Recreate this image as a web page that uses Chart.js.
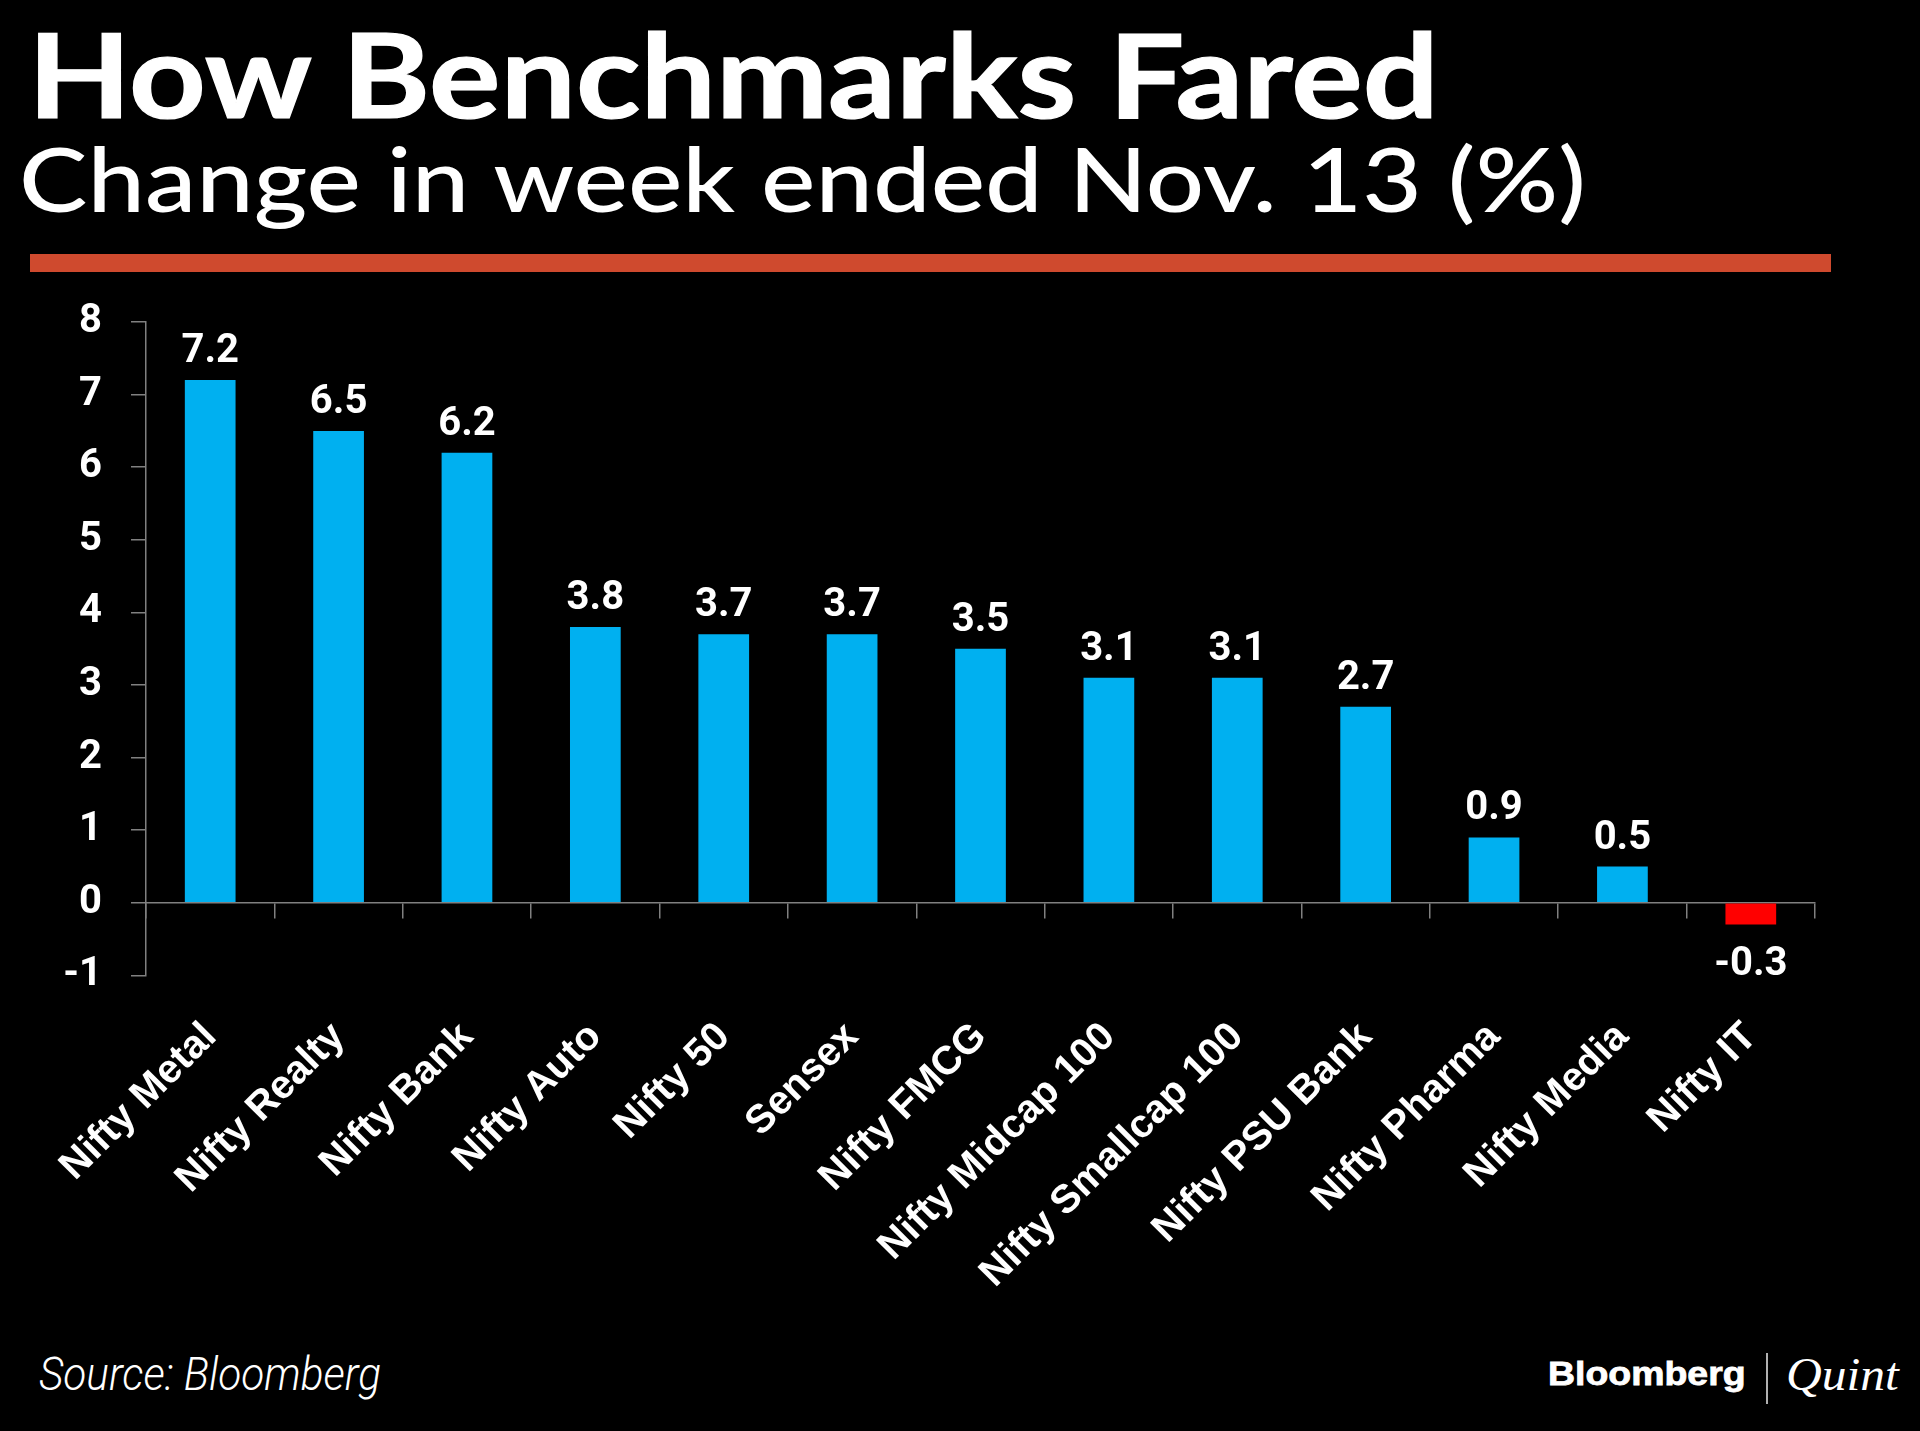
<!DOCTYPE html>
<html>
<head>
<meta charset="utf-8">
<script src="https://cdn.jsdelivr.net/npm/chart.js@4"></script>
<style>
  html, body { margin: 0; padding: 0; background: #000; }
  body { width: 1920px; height: 1431px; position: relative; overflow: hidden; }
  .txt { position: absolute; white-space: nowrap; color: #fff; transform-origin: 0 0; margin: 0; padding: 0; }
  #title { -webkit-text-stroke: 1.2px #fff; }
  #brand1 { -webkit-text-stroke: 0.8px #fff; }
  #rule { position: absolute; left: 30px; top: 254px; width: 1801px; height: 18px; background: #CF4A2E; }
  #divider { position: absolute; left: 1766px; top: 1353px; width: 1.5px; height: 51px; background: #b0b0b0; }
  #chartBox { position: absolute; left: 0; top: 280px; width: 1920px; height: 1040px; }
</style>
</head>
<body>
<div id="title" class="txt"></div>
<div id="subtitle" class="txt"></div>
<div id="rule"></div>
<div id="chartBox"><canvas id="chart" width="1920" height="1040"></canvas></div>
<div id="source" class="txt"></div>
<div id="brand1" class="txt"></div>
<div id="divider"></div>
<div id="brand2" class="txt"></div>
<script>
// ---- data ----
const titleText = 'How Benchmarks Fared';
const subtitleText = 'Change in week ended Nov. 13 (%)';
const sourceText = 'Source: Bloomberg';
const brandText1 = 'Bloomberg';
const brandText2 = 'Quint';
const categories = ['Nifty Metal', 'Nifty Realty', 'Nifty Bank', 'Nifty Auto', 'Nifty 50', 'Sensex', 'Nifty FMCG',
  'Nifty Midcap 100', 'Nifty Smallcap 100', 'Nifty PSU Bank', 'Nifty Pharma', 'Nifty Media', 'Nifty IT'];
const changes = [7.2, 6.5, 6.2, 3.8, 3.7, 3.7, 3.5, 3.1, 3.1, 2.7, 0.9, 0.5, -0.3];
const yMin = -1;
const yMax = 8;
const yStep = 1;

// ---- text placement helper ----
const mctx = document.createElement('canvas').getContext('2d');
function placeText(id, text, font, family, inkLeft, inkRight, baseline, capHeight) {
  const el = document.getElementById(id);
  mctx.font = font + ' 100px ' + family;
  const capRatio = mctx.measureText('H').actualBoundingBoxAscent / 100;
  const fs = capHeight / capRatio;
  mctx.font = font + ' ' + fs + 'px ' + family;
  const m = mctx.measureText(text);
  const ink = m.actualBoundingBoxLeft + m.actualBoundingBoxRight;
  const s = (inkRight - inkLeft) / ink;
  const asc = m.fontBoundingBoxAscent, desc = m.fontBoundingBoxDescent;
  el.textContent = text;
  el.style.font = font + ' ' + fs + 'px ' + family;
  el.style.lineHeight = (asc + desc) + 'px';
  el.style.height = (asc + desc) + 'px';
  el.style.top = (baseline - asc) + 'px';
  el.style.left = (inkLeft + m.actualBoundingBoxLeft * s) + 'px';
  el.style.transform = 'scaleX(' + s + ')';
}
placeText('title', titleText, '700', 'Lato', 38, 1433, 118, 85);
placeText('subtitle', subtitleText, '500', 'Lato', 24, 1585, 212, 65);
placeText('source', sourceText, 'italic 300', 'Roboto', 39, 380, 1390, 33);
placeText('brand1', brandText1, '700', '"Liberation Sans Narrow", "Liberation Sans"', 1550, 1743, 1385, 23);
placeText('brand2', brandText2, 'italic 400', '"Liberation Serif"', 1788, 1900, 1390, 30);

// ---- chart ----
const AXIS = '#808080';
const POS = '#00B0F0';
const NEG = '#FF0000';
const TARGET_TOP = 321.6;   // page y of the top of the value axis
const TARGET_BOTTOM = 975;  // page y of the bottom of the value axis
let labelAxisHeight = 345;

const valueLabels = {
  id: 'valueLabels',
  afterDatasetsDraw(chart) {
    const ctx = chart.ctx;
    const meta = chart.getDatasetMeta(0);
    ctx.save();
    ctx.fillStyle = '#ffffff';
    ctx.font = '700 40px Roboto';
    ctx.textAlign = 'center';
    ctx.textBaseline = 'alphabetic';
    meta.data.forEach((bar, i) => {
      const v = chart.data.datasets[0].data[i];
      const y = v >= 0 ? bar.y - 18 : bar.y + 50;
      ctx.fillText(v.toFixed(1), bar.x, y);
    });
    ctx.restore();
  }
};

const chart = new Chart(document.getElementById('chart'), {
  type: 'bar',
  data: {
    labels: categories,
    datasets: [{
      data: changes,
      backgroundColor: changes.map(v => v >= 0 ? POS : NEG),
      borderWidth: 0,
      barPercentage: 0.395,
      categoryPercentage: 1.0,
      xAxisID: 'x',
      yAxisID: 'y'
    }]
  },
  options: {
    responsive: false,
    animation: false,
    devicePixelRatio: 1,
    layout: { padding: { top: 41.6, right: 105, left: 0, bottom: 0 } },
    plugins: { legend: { display: false }, tooltip: { enabled: false }, title: { display: false } },
    scales: {
      x: {
        type: 'category',
        position: { y: 0 },
        offset: true,
        grid: { offset: true, drawOnChartArea: false, drawTicks: true, tickLength: 15, color: AXIS, lineWidth: 1.5 },
        border: { display: true, color: AXIS, width: 1.5 },
        ticks: { display: false }
      },
      xl: {
        type: 'category',
        position: 'bottom',
        offset: true,
        grid: { display: false, offset: true },
        border: { display: false },
        ticks: {
          color: '#ffffff',
          font: { family: '"Liberation Sans"', weight: '700', size: 40 },
          minRotation: 45, maxRotation: 45,
          autoSkip: false,
          padding: 30
        },
        afterFit(scale) { scale.height = labelAxisHeight; }
      },
      y: {
        type: 'linear',
        position: 'left',
        min: yMin, max: yMax,
        grid: { drawOnChartArea: false, drawTicks: true, tickLength: 15, color: AXIS, lineWidth: 1.5 },
        border: { display: true, color: AXIS, width: 1.5 },
        ticks: {
          stepSize: yStep,
          color: '#ffffff',
          font: { family: 'Roboto', weight: '700', size: 40 },
          padding: 29
        },
        afterFit(scale) { scale.width = 146; }
      }
    }
  },
  plugins: [valueLabels]
});

// align the plot area with the reference layout
for (let k = 0; k < 2; k++) {
  const ys = chart.scales.y;
  const span = ys.getPixelForValue(yMin) - ys.getPixelForValue(yMax);
  labelAxisHeight -= (TARGET_BOTTOM - TARGET_TOP) - span;
  chart.update();
}
const topPx = chart.scales.y.getPixelForValue(yMax);
document.getElementById('chartBox').style.top = (TARGET_TOP - topPx) + 'px';
</script>
</body>
</html>
